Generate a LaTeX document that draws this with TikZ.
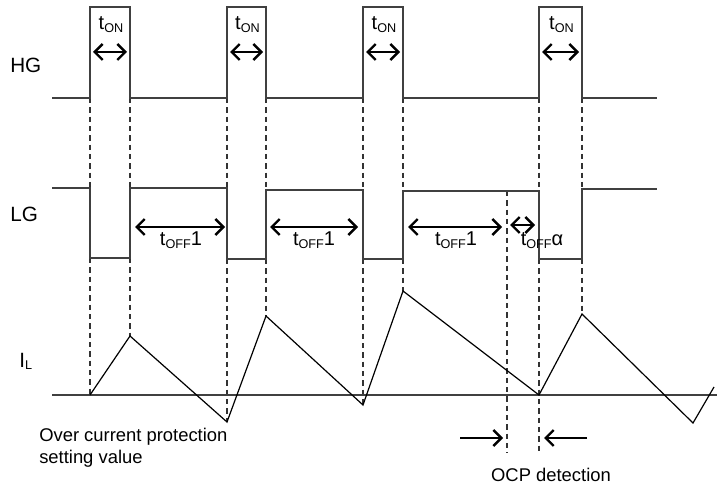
\documentclass[tikz,border=0pt]{standalone}
\usepackage{fontspec}
\setmainfont{Liberation Sans}
\usepackage{tikz}
\usetikzlibrary{arrows.meta, positioning}

% small subscript in text labels
\newcommand{\tsub}[1]{\raisebox{-0.25ex}{\fontsize{9.5}{11}\selectfont #1}}

\begin{document}
\begin{tikzpicture}[x=0.75pt, y=-0.75pt,
    wave/.style={line width=1pt, black!75},
    coil/.style={line width=0.9pt, black},
    guide/.style={line width=0.8pt, black!80, dash pattern=on 4pt off 3pt},
    span/.style={{Straight Barb[length=6pt, width=12pt]}-{Straight Barb[length=6pt, width=12pt]}, line width=1.8pt},
    push/.style={-{Straight Barb[length=6pt, width=12pt]}, line width=1.8pt},
    sig/.style={font=\fontsize{15.5}{18}\selectfont, anchor=base west, inner sep=0pt},
    tlbl/.style={font=\fontsize{15}{17}\selectfont, anchor=base, inner sep=0pt},
    note/.style={font=\fontsize{13.8}{15}\selectfont, inner sep=0pt}]

    % =================================================================
    % 1. KHUNG HINH
    % =================================================================
    \useasboundingbox (0,0) rectangle (717,488);

    % =================================================================
    % 2. DIEM DAU CUA CAC XUNG VA DINH DONG DIEN
    % =================================================================
    % Cac dinh cua dong dien cuon cam IL
    \coordinate (I0) at (90,395);
    \coordinate (P1) at (130,336);
    \coordinate (V1) at (227,422);
    \coordinate (P2) at (266,316);
    \coordinate (V2) at (363,405);
    \coordinate (P3) at (403,291);
    \coordinate (V3) at (539,395);
    \coordinate (P4) at (582,314);
    \coordinate (V4) at (693,423);
    \coordinate (E4) at (714,387);

    % =================================================================
    % 3. DUONG GIONG DUT NET
    % =================================================================
    \foreach \x in {90,130,227,266,363,403,539,582}
        \draw[guide] (\x,98) -- (\x,189);
    \draw[guide] (90,258) -- (I0);
    \draw[guide] (130,258) -- (P1);
    \draw[guide] (227,259) -- (V1);
    \draw[guide] (266,259) -- (P2);
    \draw[guide] (363,259) -- (V2);
    \draw[guide] (403,259) -- (P3);
    \draw[guide] (539,259) -- (539,453);
    \draw[guide] (582,259) -- (P4);
    \draw[guide] (507,191) -- (507,453);

    % =================================================================
    % 4. DANG SONG HG, LG VA IL
    % =================================================================
    \draw[wave] (52,98) -| (90,7) -| (130,98) -| (227,7) -| (266,98)
        -| (363,7) -| (403,98) -| (539,7) -| (582,98) -- (657,98);

    \draw[wave] (52,188) -| (90,258) -| (130,188) -| (227,259) -| (266,190)
        -| (363,259) -| (403,191) -| (539,259) -| (582,189) -- (657,189);

    \draw[wave] (52,395) -- (717,395);

    \draw[coil] (I0) -- (P1) -- (V1) -- (P2) -- (V2) -- (P3) -- (V3)
        -- (P4) -- (V4) -- (E4);

    % =================================================================
    % 5. MUI TEN tON, tOFF
    % =================================================================
    \foreach \a/\b in {90/130, 227/266, 363/403, 539/582}{
        \draw[span] (\a+3,52) -- (\b-3,52);
        \node[tlbl] (ton\a) at ({(\a+\b)/2+1},30) {t\tsub{ON}};
    }

    \draw[span] (135,227) -- (225,227);
    \draw[span] (270,227) -- (358,227);
    \draw[span] (408,227) -- (502,227);
    \draw[span] (510,225) -- (535,225);

    \node[tlbl] (toffa) at (181,246) {t\tsub{OFF}1};
    \node[tlbl] (toffb) at (314,246) {t\tsub{OFF}1};
    \node[tlbl] (toffc) at (456,246) {t\tsub{OFF}1};
    \node[tlbl] (toffd) at (542,246) {t\tsub{OFF}α};

    % =================================================================
    % 6. PHAT HIEN OCP
    % =================================================================
    \coordinate (OL) at (460,438);
    \coordinate (OR) at (587,438);
    \draw[push] (OL) -- (503,438);
    \draw[push] (OR) -- (544,438);

    % =================================================================
    % 7. NHAN
    % =================================================================
    \node[sig] (hg) at (10,73) {HG};
    \node[sig] (lg) at (10,222) {LG};
    \node[sig] (il) at (19,367) {I\tsub{L}};

    \node[note, anchor=base west, align=left] (ocpset) at (39,463)
        {Over current protection\\[1pt]setting value};
    \node[note, anchor=base] (ocpdet) at (551,481) {OCP detection};

\end{tikzpicture}
\end{document}
